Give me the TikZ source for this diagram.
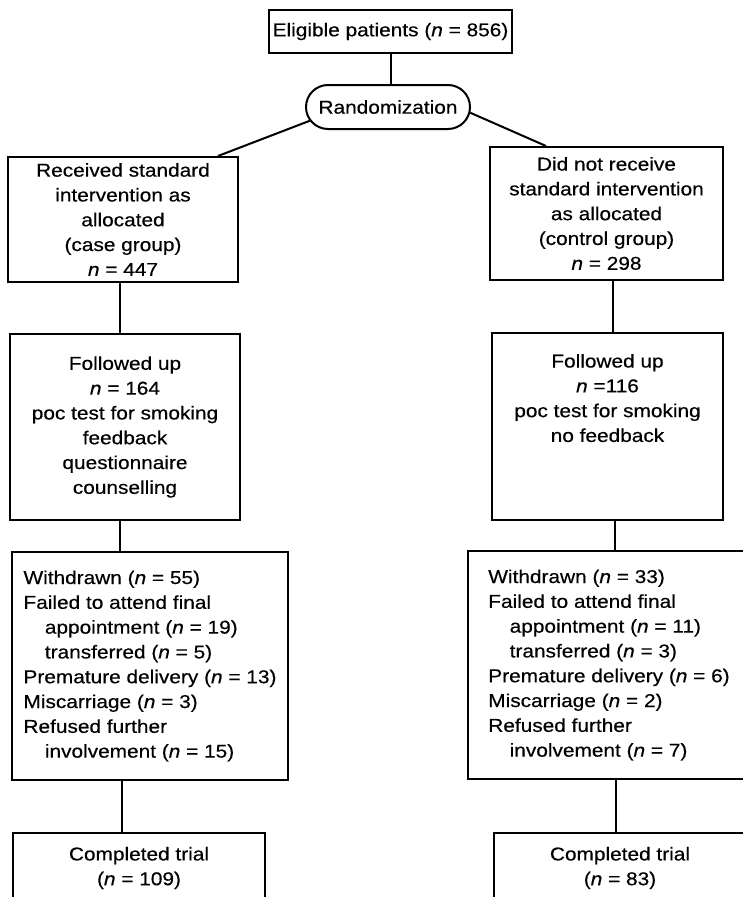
\documentclass[tikz,border=0pt]{standalone}
\usepackage{fontspec}
\setmainfont[FakeStretch=1.12,FakeBold=0.4]{Liberation Sans}
\usetikzlibrary{shapes.misc}
\newcommand{\pn}{\textit{n}}
\newcommand{\ind}{\hspace*{1.15em}}

\begin{document}
\begin{tikzpicture}[x=1bp, y=-1bp,
	box/.style={rectangle, draw, line width=2bp, inner sep=2bp, align=center, font=\fontsize{18.6bp}{24.8bp}\selectfont},
	listbox/.style={box, align=left},
	link/.style={line width=2bp}]
	\useasboundingbox (0,0) rectangle (743,897);

	\node[box, minimum width=243bp, minimum height=43bp](elig) at (390.5,31.5){Eligible patients (\pn{} = 856)};
	\node[box, rounded rectangle, minimum width=168bp, minimum height=44bp](rand) at (388,107){Randomization};

	\node[box, minimum width=230bp, minimum height=125bp](recv) at (123,219.5){Received standard\\ intervention as\\ allocated\\ (case group)\\ \pn{} = 447};
	\node[box, minimum width=233bp, minimum height=133bp](notrecv) at (606.5,213.5){Did not receive\\ standard intervention\\ as allocated\\ (control group)\\ \pn{} = 298};

	\node[box, minimum width=230bp, minimum height=186bp](fupL) at (125,427){Followed up\\ \pn{} = 164\\ poc test for smoking\\ feedback\\ questionnaire\\ counselling};
	\node[box, minimum width=231bp, minimum height=187bp](fupR) at (607.5,426.5){Followed up\\ \pn{} =116\\ poc test for smoking\\ no feedback\\ \strut\\ \strut};

	\node[listbox, minimum width=276bp, minimum height=228bp](lossL) at (150,666){Withdrawn (\pn{} = 55)\\ Failed to attend final\\ \ind appointment (\pn{} = 19)\\ \ind transferred (\pn{} = 5)\\ Premature delivery (\pn{} = 13)\\ Miscarriage (\pn{} = 3)\\ Refused further\\ \ind involvement (\pn{} = 15)};
	\node[listbox, minimum width=282bp, minimum height=228bp](lossR) at (609,665){Withdrawn (\pn{} = 33)\\ Failed to attend final\\ \ind appointment (\pn{} = 11)\\ \ind transferred (\pn{} = 3)\\ Premature delivery (\pn{} = 6)\\ Miscarriage (\pn{} = 2)\\ Refused further\\ \ind involvement (\pn{} = 7)};

	\node[box, minimum width=252bp, minimum height=70bp](doneL) at (139,868){Completed trial\\ (\pn{} = 109)};
	\node[box, minimum width=252bp, minimum height=70bp](doneR) at (620,868){Completed trial\\ (\pn{} = 83)};

	% connectors
	\draw[link] (elig.south) -- (elig.south |- rand.north);
	\draw[link] (rand.190) -- ([xshift=-21bp]recv.north east);
	\draw[link] (rand.-4) -- ([xshift=57bp]notrecv.north west);

	\draw[link] ([xshift=-3bp]recv.south) -- ([xshift=-3bp]recv.south |- fupL.north);
	\draw[link] ([xshift=-5bp]fupL.south) -- ([xshift=-5bp]fupL.south |- lossL.north);
	\draw[link] ([xshift=-28bp]lossL.south) -- ([xshift=-28bp]lossL.south |- doneL.north);

	\draw[link] ([xshift=6.5bp]notrecv.south) -- ([xshift=6.5bp]notrecv.south |- fupR.north);
	\draw[link] ([xshift=7.5bp]fupR.south) -- ([xshift=7.5bp]fupR.south |- lossR.north);
	\draw[link] ([xshift=7bp]lossR.south) -- ([xshift=7bp]lossR.south |- doneR.north);
\end{tikzpicture}
\end{document}
